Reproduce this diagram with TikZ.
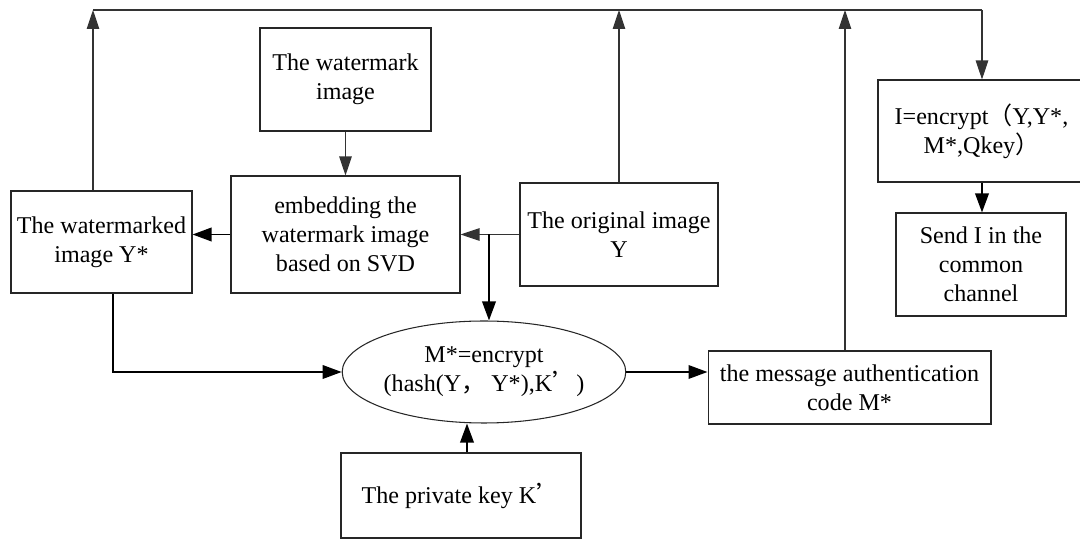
\documentclass[tikz,border=0pt]{standalone}
\usepackage{fontspec}
\setmainfont{Liberation Serif}
\newfontfamily\cjk{Noto Sans CJK SC}
\usetikzlibrary{arrows.meta,shapes.geometric}
\begin{document}
\begin{tikzpicture}[x=0.02cm,y=-0.02cm,
  box/.style={draw=black!85,line width=0.6pt,inner sep=0pt,align=center,
    font=\fontsize{13.7pt}{16.5pt}\selectfont},
  thinln/.style={draw=black!80,line width=0.6pt},
  arr/.style={thinln,-{Triangle[length=0.38cm,width=0.25cm]}},
  arrthick/.style={draw=black,line width=1.1pt,-{Triangle[length=0.38cm,width=0.27cm]}}]
\useasboundingbox (0,0) rectangle (1080,540);
\node[box,minimum width=3.42cm,minimum height=2.06cm] (wm) at (345.5,79.5) {The watermark\\image};
\node[box,minimum width=4.58cm,minimum height=2.34cm] (emb) at (345.5,234.5) {embedding the\\watermark image\\based on SVD};
\node[box,minimum width=3.62cm,minimum height=2.04cm] (wmd) at (101.5,242) {The watermarked\\image Y*};
\node[box,minimum width=3.96cm,minimum height=2.06cm] (orig) at (619,234.5) {The original image\\Y};
\node[box,ellipse,minimum width=5.6cm,minimum height=2.04cm] (ell) at (484,372) {M*=encrypt\\(hash(Y{\cjk ，}\ Y*),K{\cjk ’})};
\node[box,minimum width=5.66cm,minimum height=1.46cm] (mac) at (849.5,387.5) {the message authentication\\code M*};
\node[box,minimum width=4.8cm,minimum height=1.7cm] (key) at (461,495.5) {The private key K{\cjk ’}};
\node[box,minimum width=4.14cm,minimum height=2.04cm] (ienc) at (981.5,131) {I=encrypt{\cjk （}Y,Y*,\\M*,Qkey{\cjk ）}};
\node[box,minimum width=3.4cm,minimum height=2.06cm] (send) at (981,264.5) {Send I in the\\common\\channel};
\coordinate (tl) at (93,10);
\coordinate (tr) at (982,10);
\coordinate (tm) at (845,10);
\coordinate (br) at (489,234.5);
\coordinate (dl) at (113,374);
\coordinate (kx) at (467,450);
\draw[thinln] (tl) -- (tr);
\draw[arr] (wmd.north -| tl) -- (tl);
\draw[arr] (orig.north) -- (orig.north |- tl);
\draw[arr] (mac.north -| tm) -- (tm);
\draw[arr] (tr) -- (ienc.north -| tr);
\draw[arrthick] (ienc.south -| tr) -- (send.north -| tr);
\draw[arr] (wm) -- (emb);
\draw[arrthick] (emb.west) -- (emb.west -| wmd.east);
\draw[arr] (orig.west) -- (orig.west -| emb.east);
\draw[arrthick] (br) -- (ell.north -| br);
\draw[arrthick] (wmd.south -| dl) |- (ell.west);
\draw[arrthick] (ell.east) -- (ell.east -| mac.west);
\draw[arrthick] (key.north -| kx) -- (ell.south -| kx);
\end{tikzpicture}
\end{document}
